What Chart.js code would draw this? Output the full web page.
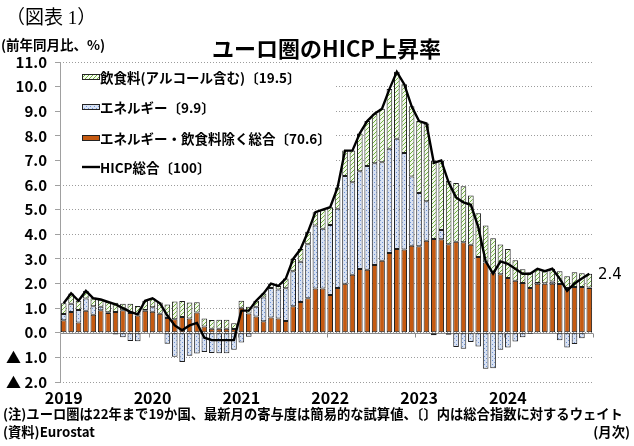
<!DOCTYPE html>
<html>
<head>
<meta charset="utf-8">
<script src="https://cdn.jsdelivr.net/npm/chart.js@4.4.0/dist/chart.umd.min.js"></script>
<style>
body { margin: 0; background: #fff; }
#wrap { position: relative; width: 634px; height: 446px; overflow: hidden; font-family: "Noto Sans CJK JP", sans-serif; color: #000; }
#hicp { position: absolute; left: 0; top: 0; }
.t { position: absolute; white-space: nowrap; line-height: 1; }
</style>
</head>
<body>
<div id="wrap">
  <canvas id="hicp" width="634" height="446"></canvas>
  <div class="t" style="left:6px;top:8px;font-family:'Liberation Serif','Noto Sans CJK JP',serif;font-size:19px;">（図表 1）</div>
  <div class="t" style="left:1px;top:38px;font-size:13.5px;font-weight:bold;">(前年同月比、%)</div>
  <div class="t" style="left:212px;top:36px;font-size:22px;font-weight:bold;">ユーロ圏のHICP上昇率</div>
  <div class="t" style="left:3px;top:407px;font-size:13.3px;font-weight:bold;">(注)ユーロ圏は22年まで19か国、最新月の寄与度は簡易的な試算値、〔〕内は総合指数に対するウェイト</div>
  <div class="t" style="left:3px;top:425px;font-size:13.3px;font-weight:bold;">(資料)Eurostat</div>
  <div class="t" style="right:4px;top:425px;font-size:13.3px;font-weight:bold;">(月次)</div>
</div>
<script>
var years = ["2019", "2020", "2021", "2022", "2023", "2024"];
var months = [];
years.forEach(function (y) {
    for (var m = 1; m <= 12; m++) months.push(y + "/" + m);
});

// contributions (percentage points) and headline HICP, y/y %
var coreContrib = [
    0.51, 0.84, 0.42, 0.89, 0.73, 0.91, 0.80, 0.84, 0.91, 0.80, 0.70, 0.89,
    0.85, 0.77, 0.60, 0.55, 0.64, 0.58, 0.82, 0.25, 0.16, 0.16, 0.16, 0.15,
    1.02, 0.78, 0.66, 0.47, 0.62, 0.58, 0.48, 1.08, 1.25, 1.40, 1.80, 1.80,
    1.53, 1.82, 1.99, 2.36, 2.59, 2.56, 2.75, 2.93, 3.24, 3.40, 3.38, 3.54,
    3.51, 3.74, 3.81, 3.80, 3.60, 3.70, 3.68, 3.58, 3.08, 2.85, 2.45, 2.38,
    2.22, 2.11, 2.02, 1.82, 1.99, 1.99, 1.99, 1.98, 1.82, 1.86, 1.86, 1.82
];
var energyContrib = [
    0.25, 0.34, 0.51, 0.50, 0.35, 0.15, 0.03, -0.07, -0.18, -0.33, -0.34, 0.04,
    0.19, -0.03, -0.45, -0.97, -1.19, -0.93, -0.84, -0.78, -0.82, -0.83, -0.83, -0.69,
    -0.40, -0.16, 0.40, 0.96, 1.20, 1.18, 1.33, 1.42, 1.64, 2.20, 2.56, 2.43,
    2.85, 3.22, 4.38, 3.75, 3.97, 4.22, 4.14, 4.00, 4.24, 4.48, 3.92, 2.81,
    2.17, 1.60, -0.10, 0.38, -0.08, -0.58, -0.65, -0.38, -0.56, -1.46, -1.44, -0.69,
    -0.60, -0.35, -0.18, -0.05, 0.03, 0.02, 0.09, -0.30, -0.60, -0.46, -0.22, 0.02
];
var foodContrib = [
    0.44, 0.42, 0.37, 0.31, 0.32, 0.29, 0.42, 0.38, 0.27, 0.38, 0.39, 0.37,
    0.36, 0.46, 0.55, 0.72, 0.65, 0.65, 0.42, 0.33, 0.36, 0.37, 0.37, 0.24,
    0.28, 0.28, 0.24, 0.17, 0.18, 0.14, 0.39, 0.50, 0.51, 0.50, 0.54, 0.77,
    0.72, 0.86, 1.03, 1.29, 1.54, 1.82, 2.01, 2.17, 2.42, 2.72, 2.80, 2.85,
    2.92, 3.16, 3.19, 2.82, 2.58, 2.38, 2.27, 2.00, 1.78, 1.51, 1.39, 1.21,
    1.18, 0.84, 0.56, 0.63, 0.58, 0.49, 0.52, 0.52, 0.48, 0.60, 0.56, 0.56
];
var hicpTotal = [
    1.2, 1.6, 1.3, 1.7, 1.4, 1.35, 1.25, 1.15, 1.0, 0.85, 0.75, 1.3,
    1.4, 1.2, 0.7, 0.3, 0.1, 0.3, 0.4, -0.2, -0.3, -0.3, -0.3, -0.3,
    0.9, 0.9, 1.3, 1.6, 2.0, 1.9, 2.2, 3.0, 3.4, 4.1, 4.9, 5.0,
    5.1, 5.9, 7.4, 7.4, 8.1, 8.6, 8.9, 9.1, 9.9, 10.6, 10.1, 9.2,
    8.6, 8.5, 6.9, 7.0, 6.1, 5.5, 5.3, 5.2, 4.3, 2.9, 2.4, 2.9,
    2.8, 2.6, 2.4, 2.4, 2.6, 2.5, 2.6, 2.2, 1.7, 2.0, 2.2, 2.4
];
var seriesNames = ["飲食料(アルコール含む)〔19.5〕", "エネルギー〔9.9〕", "エネルギー・飲食料除く総合〔70.6〕", "HICP総合〔100〕"];

var JP = '"Noto Sans CJK JP", sans-serif';

function makePattern(draw) {
    var cv = document.createElement("canvas");
    cv.width = 4; cv.height = 4;
    var c = cv.getContext("2d");
    draw(c);
    return document.getElementById("hicp").getContext("2d").createPattern(cv, "repeat");
}
var foodFill = makePattern(function (c) {
    c.fillStyle = "#f4f9ee"; c.fillRect(0, 0, 4, 4);
    c.fillStyle = "#6fb23e";
    for (var i = 0; i < 4; i++) c.fillRect(i, 3 - i, 1, 1);
});
var energyFill = makePattern(function (c) {
    c.fillStyle = "#d8e2f4"; c.fillRect(0, 0, 4, 4);
    c.fillStyle = "#7193d2";
    c.fillRect(0, 0, 1, 1); c.fillRect(2, 2, 1, 1);
});
var coreFill = "#c55a11";
var fills = [foodFill, energyFill, coreFill];

var extras = {
    id: "extras",
    beforeDatasetsDraw: function (chart) {
        var ctx = chart.ctx, a = chart.chartArea, xs = chart.scales.x, ys = chart.scales.y;
        ctx.save();
        // white backdrop under the legend
        ctx.fillStyle = "#fff";
        var top = ys.getPixelForValue(11) + 1;
        ctx.fillRect(a.left + 1, top, 275, ys.getPixelForValue(6.3) - top);
        // zero line and year ticks
        var y0 = Math.round(ys.getPixelForValue(0)) + 0.5;
        ctx.strokeStyle = "#8c8c8c"; ctx.lineWidth = 1;
        ctx.beginPath(); ctx.moveTo(a.left, y0); ctx.lineTo(a.right, y0); ctx.stroke();
        for (var k = 1; k <= 6; k++) {
            var xb = k < 6 ? (xs.getPixelForValue(12 * k - 1) + xs.getPixelForValue(12 * k)) / 2 : a.right;
            xb = Math.round(xb) + 0.5;
            ctx.beginPath(); ctx.moveTo(xb, y0); ctx.lineTo(xb, y0 + 4); ctx.stroke();
        }
        // left axis line
        ctx.strokeStyle = "#a0a0a0";
        ctx.beginPath(); ctx.moveTo(a.left + 0.5, a.top); ctx.lineTo(a.left + 0.5, a.bottom); ctx.stroke();
        ctx.restore();
    },
    afterDraw: function (chart) {
        var ctx = chart.ctx, ys = chart.scales.y;
        ctx.save();
        var lx = 82, rows = [77, 107, 138, 167];
        ctx.font = "bold 13.5px " + JP;
        ctx.textBaseline = "middle";
        for (var i = 0; i < 4; i++) {
            var ry = rows[i];
            if (i < 3) {
                ctx.fillStyle = fills[i];
                ctx.fillRect(lx, ry - 3, 18, 6);
                ctx.strokeStyle = "#222"; ctx.lineWidth = 1;
                ctx.strokeRect(lx + 0.5, ry - 2.5, 17, 5);
            } else {
                ctx.strokeStyle = "#000"; ctx.lineWidth = 2.4;
                ctx.beginPath(); ctx.moveTo(lx, ry); ctx.lineTo(lx + 18, ry); ctx.stroke();
            }
            ctx.fillStyle = "#000";
            ctx.fillText(seriesNames[i], lx + 18, ry + 1);
        }
        // last value label
        var last = hicpTotal.length - 1;
        ctx.font = '15px "DejaVu Sans", sans-serif';
        ctx.textBaseline = "middle";
        ctx.fillText(hicpTotal[last].toFixed(1), chart.chartArea.right + 5, ys.getPixelForValue(hicpTotal[last]) + 1);
        ctx.restore();
    }
};

var barCommon = {
    type: "bar",
    borderColor: "#1e1e1e",
    borderWidth: 1,
    borderSkipped: false,
    barPercentage: 0.76,
    categoryPercentage: 1,
    stack: "contrib",
    order: 1
};

var config = {
    type: "bar",
    data: {
        labels: months,
        datasets: [
            Object.assign({}, barCommon, { label: seriesNames[2], data: coreContrib, backgroundColor: coreFill }),
            Object.assign({}, barCommon, { label: seriesNames[1], data: energyContrib, backgroundColor: energyFill }),
            Object.assign({}, barCommon, { label: seriesNames[0], data: foodContrib, backgroundColor: foodFill }),
            {
                type: "line", label: seriesNames[3], data: hicpTotal, stack: "total", order: 0,
                borderColor: "#000", borderWidth: 2.4, pointRadius: 0, tension: 0, fill: false
            }
        ]
    },
    options: {
        responsive: false,
        animation: false,
        layout: { padding: { left: 0, right: 41, top: 62, bottom: 34 } },
        plugins: { legend: { display: false }, tooltip: { enabled: false } },
        scales: {
            x: {
                stacked: true,
                grid: { display: false, drawTicks: false },
                border: { display: false },
                ticks: {
                    autoSkip: false, maxRotation: 0, padding: 6, color: "#000",
                    font: { family: JP, size: 16, weight: "bold" },
                    callback: function (v, i) { return i % 12 === 0 ? years[i / 12] : ""; }
                },
                afterFit: function (s) { s.height = 30; }
            },
            y: {
                stacked: true,
                min: -2, max: 11,
                grid: { color: "#9c9c9c", lineWidth: 1, drawTicks: true, tickLength: 5, tickColor: "#a0a0a0", tickBorderDash: [] },
                border: { display: false, dash: [1, 2] },
                ticks: {
                    stepSize: 1, padding: 8, color: "#000",
                    font: { family: JP, size: 15, weight: "bold" },
                    callback: function (v) { return v < 0 ? "▲ " + Math.abs(v).toFixed(1) : v.toFixed(1); }
                },
                afterFit: function (s) { s.width = 60; }
            }
        }
    },
    plugins: [extras]
};

var hicpChart = new Chart(document.getElementById("hicp"), config);
</script>
</body>
</html>
